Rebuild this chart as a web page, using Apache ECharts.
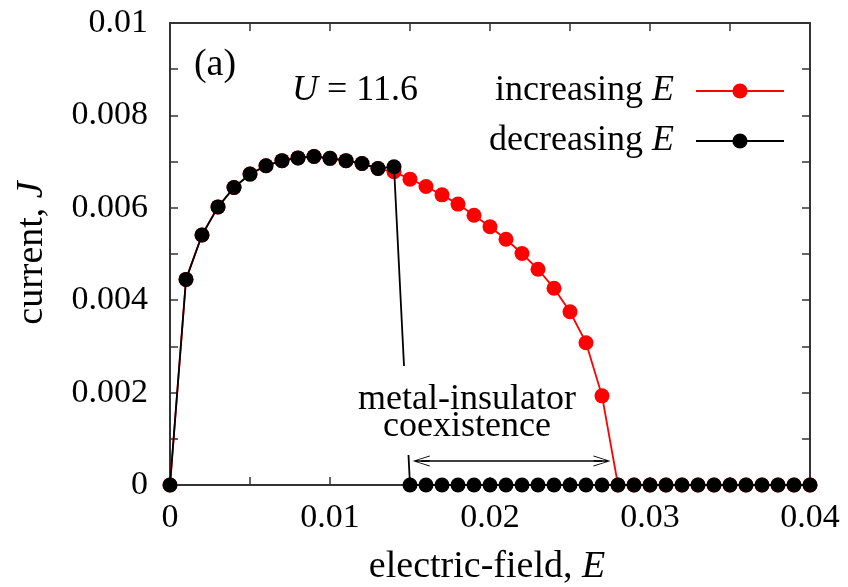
<!DOCTYPE html>
<html>
<head>
<meta charset="utf-8">
<script src="https://cdn.jsdelivr.net/npm/echarts@6/dist/echarts.min.js"></script>
<style>
  html, body { margin: 0; padding: 0; background: #fff; }
  #chart { width: 848px; height: 587px; }
</style>
</head>
<body>
<div id="chart"></div>
<script>
// Electric field values (x) shared by both sweeps
const fieldE = [
  0.000, 0.001, 0.002, 0.003, 0.004, 0.005, 0.006, 0.007, 0.008, 0.009,
  0.010, 0.011, 0.012, 0.013, 0.014, 0.015, 0.016, 0.017, 0.018, 0.019,
  0.020, 0.021, 0.022, 0.023, 0.024, 0.025, 0.026, 0.027, 0.028, 0.029,
  0.030, 0.031, 0.032, 0.033, 0.034, 0.035, 0.036, 0.037, 0.038, 0.039,
  0.040
];

// Current J while sweeping E upward
const currentIncreasing = [
  0, 0.00445, 0.00541, 0.00602, 0.00644, 0.00673, 0.00691, 0.00702, 0.00708, 0.00711,
  0.00707, 0.00702, 0.00696, 0.00685, 0.00678, 0.00662, 0.00646, 0.00628, 0.00608, 0.00584,
  0.00559, 0.00532, 0.00501, 0.00467, 0.00426, 0.00375, 0.00308, 0.00193, 0, 0,
  0, 0, 0, 0, 0, 0, 0, 0, 0, 0,
  0
];

// Current J while sweeping E downward
const currentDecreasing = [
  0, 0.00445, 0.00541, 0.00602, 0.00644, 0.00673, 0.00691, 0.00702, 0.00708, 0.00711,
  0.00707, 0.00702, 0.00696, 0.00685, 0.00689, 0, 0, 0, 0, 0,
  0, 0, 0, 0, 0, 0, 0, 0, 0, 0,
  0, 0, 0, 0, 0, 0, 0, 0, 0, 0,
  0
];

// Double-headed arrow marking the coexistence window [E_start, E_end] at height J
const coexistArrowE = [0.0157, 0.0270];
const coexistArrowJ = 0.00052;

const seriesNames = ['increasing E', 'decreasing E'];
const serif = '"Liberation Serif", "Times New Roman", serif';
const frameColor = '#333';

const pairs = (ys) => fieldE.map((e, i) => [e, ys[i]]);

// Open arrow head with a short shaft so the tip sits at the end of the line
const arrowHead = 'path://M5,0 L10,16 L9,16 L5.7,4.5 L5.7,16 L4.3,16 L4.3,4.5 L1,16 L0,16 Z';

const tickAxisCommon = {
  axisLine: { show: true, onZero: false, lineStyle: { color: frameColor, width: 2 } },
  axisTick: { show: true, inside: true, length: 8, lineStyle: { color: frameColor, width: 1.5 } },
  minorTick: { show: true, splitNumber: 2, length: 8, lineStyle: { color: frameColor, width: 1.5 } },
  splitLine: { show: false },
  minorSplitLine: { show: false }
};

const fmt = (v) => (Math.abs(v) < 1e-12 ? '0' : String(+v.toFixed(4)));
const italicRich = (size) => ({ i: { fontStyle: 'italic', fontFamily: serif, fontSize: size, color: '#000' } });

const chart = echarts.init(document.getElementById('chart'), null, { renderer: 'canvas' });

chart.setOption({
  backgroundColor: '#fff',
  animation: false,
  textStyle: { fontFamily: serif, color: '#000' },
  grid: { left: 170, right: 38, top: 23, bottom: 102, containLabel: false },
  xAxis: [
    Object.assign({
      type: 'value', position: 'bottom', min: 0, max: 0.04, interval: 0.01,
      axisLabel: { show: true, formatter: fmt, fontFamily: serif, fontSize: 34, color: '#000', margin: 16 }
    }, tickAxisCommon),
    Object.assign({
      type: 'value', position: 'top', min: 0, max: 0.04, interval: 0.01,
      axisLabel: { show: false }
    }, tickAxisCommon)
  ],
  yAxis: [
    Object.assign({
      type: 'value', position: 'left', min: 0, max: 0.01, interval: 0.002,
      axisLabel: { show: true, formatter: fmt, fontFamily: serif, fontSize: 34, color: '#000', margin: 22 }
    }, tickAxisCommon),
    Object.assign({
      type: 'value', position: 'right', min: 0, max: 0.01, interval: 0.002,
      axisLabel: { show: false }
    }, tickAxisCommon)
  ],
  legend: {
    data: seriesNames,
    orient: 'vertical',
    right: 58,
    top: 66,
    align: 'right',
    itemWidth: 88,
    itemHeight: 19,
    itemGap: 10,
    selectedMode: false,
    formatter: (name) => name.replace(/ E$/, ' {i|E}'),
    textStyle: {
      fontFamily: serif, fontSize: 36, color: '#000', lineHeight: 40,
      padding: [0, 17, 0, 0],
      rich: italicRich(36)
    }
  },
  series: [
    {
      name: seriesNames[0],
      type: 'line',
      data: pairs(currentIncreasing),
      xAxisIndex: 0, yAxisIndex: 0,
      symbol: 'circle', symbolSize: 15, showSymbol: true,
      clip: false, z: 2,
      lineStyle: { color: '#ff0000', width: 1.8 },
      itemStyle: { color: '#ff0000' }
    },
    {
      name: seriesNames[1],
      type: 'line',
      data: pairs(currentDecreasing),
      xAxisIndex: 0, yAxisIndex: 0,
      symbol: 'circle', symbolSize: 15, showSymbol: true,
      clip: false, z: 3,
      lineStyle: { color: '#000', width: 1.8 },
      itemStyle: { color: '#000' },
      markLine: {
        silent: true,
        symbol: [arrowHead, arrowHead],
        symbolSize: [11, 17],
        label: { show: false },
        lineStyle: { color: '#000', width: 1.5, type: 'solid' },
        data: [[
          { coord: [coexistArrowE[0], coexistArrowJ] },
          { coord: [coexistArrowE[1], coexistArrowJ] }
        ]]
      }
    }
  ],
  graphic: [
    {
      type: 'text', z: 100, x: 215, y: 65,
      style: { text: '(a)', font: '38px ' + serif, fill: '#000', textAlign: 'center', textVerticalAlign: 'middle' }
    },
    {
      type: 'text', z: 100, x: 355, y: 91,
      style: {
        text: '{i|U} = 11.6', font: '36px ' + serif, fill: '#000',
        textAlign: 'center', textVerticalAlign: 'middle',
        rich: italicRich(36)
      }
    },
    {
      type: 'group', z: 100,
      children: [
        {
          type: 'rect', z: 100,
          shape: { x: 352, y: 366, width: 230, height: 89 },
          style: { fill: '#fff' }
        },
        {
          type: 'text', z: 101, x: 467, y: 400,
          style: { text: 'metal-insulator', font: '36px ' + serif, fill: '#000', textAlign: 'center', textVerticalAlign: 'middle' }
        },
        {
          type: 'text', z: 101, x: 467, y: 427,
          style: { text: 'coexistence', font: '36px ' + serif, fill: '#000', textAlign: 'center', textVerticalAlign: 'middle' }
        }
      ]
    },
    {
      type: 'text', z: 100, x: 487, y: 567,
      style: {
        text: 'electric-field, {i|E}', font: '38px ' + serif, fill: '#000',
        textAlign: 'center', textVerticalAlign: 'middle',
        rich: italicRich(38)
      }
    },
    {
      type: 'text', z: 100, x: 32, y: 253, rotation: Math.PI / 2,
      style: {
        text: 'current, {i|J}', font: '38px ' + serif, fill: '#000',
        textAlign: 'center', textVerticalAlign: 'middle',
        rich: italicRich(38)
      }
    }
  ]
});
</script>
</body>
</html>
